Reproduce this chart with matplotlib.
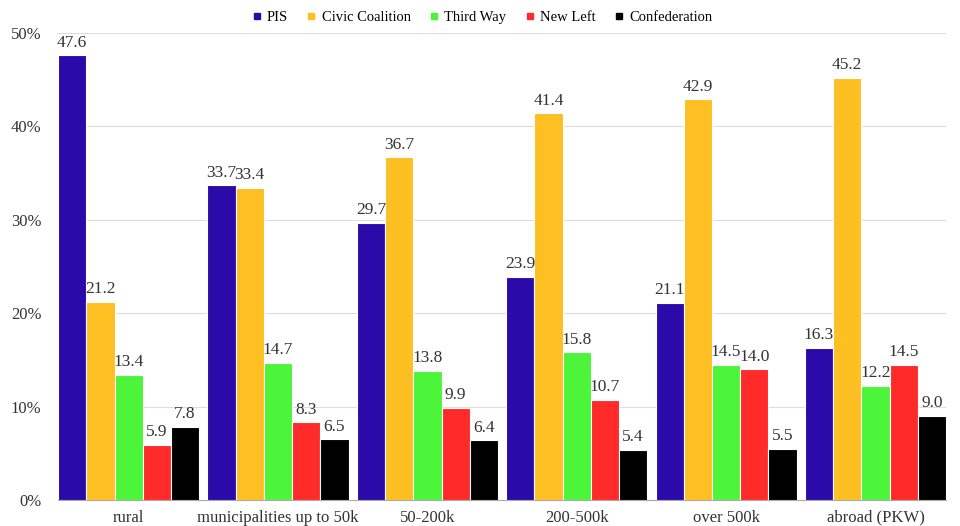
import numpy as np
import matplotlib.pyplot as plt
from matplotlib.ticker import FuncFormatter

# vote share by place of residence
categories = ["rural", "municipalities up to 50k", "50-200k", "200-500k", "over 500k", "abroad (PKW)"]
parties = ["PIS", "Civic Coalition", "Third Way", "New Left", "Confederation"]
pis = [47.6, 33.7, 29.7, 23.9, 21.1, 16.3]
civic = [21.2, 33.4, 36.7, 41.4, 42.9, 45.2]
third_way = [13.4, 14.7, 13.8, 15.8, 14.5, 12.2]
new_left = [5.9, 8.3, 9.9, 10.7, 14.0, 14.5]
confederation = [7.8, 6.5, 6.4, 5.4, 5.5, 9.0]
colors = ["#2a0aa8", "#fdbf22", "#4cf53a", "#ff2a2a", "#000000"]

plt.rcParams['font.family'] = ['Liberation Serif', 'DejaVu Serif']

fig = plt.figure(figsize=(9.6, 5.26), dpi=100)
ax = fig.add_axes([0.0605, 0.0494, 0.925, 0.888])

series = [pis, civic, third_way, new_left, confederation]
x = np.arange(len(categories))
w = 0.189
for i, (vals, name) in enumerate(zip(series, parties)):
    pos = x - 0.5 + w * i + w / 2
    ax.bar(pos, vals, width=w, color=colors[i], edgecolor="white", linewidth=0.8,
           label=name, zorder=3)
    for px, v in zip(pos, vals):
        ax.text(px, v + 0.5, f"{v:.1f}", ha="center", va="bottom", fontsize=12.5,
                color="#333333", zorder=4)

ax.set_ylim(0, 50)
ax.set_xlim(-0.5, len(categories) - 0.5 - 0.055)
ax.set_yticks(np.arange(0, 51, 10))
ax.yaxis.set_major_formatter(FuncFormatter(lambda v, p: f"{v:.0f}%"))
ax.set_xticks(x - 0.5 + w * 2.5)
ax.set_xticklabels(categories)
ax.tick_params(axis="both", length=0, labelsize=12, colors="#333333")
ax.tick_params(axis="x", pad=7)
ax.tick_params(axis="y", pad=12)
ax.grid(axis="y", color="#dddddd", linewidth=0.8, zorder=0)
for s in ["top", "right", "left"]:
    ax.spines[s].set_visible(False)
ax.spines["bottom"].set_color("#aaaaaa")

handles = [plt.Line2D([], [], marker="s", linestyle="", color=c, markersize=5) for c in colors]
fig.legend(handles, parties, loc="upper center", bbox_to_anchor=(0.5, 1.005), ncol=5,
           frameon=False, fontsize=10.5, handletextpad=0.1, columnspacing=1.0,
           handlelength=1.2)

fig.savefig("out.png", dpi=100)
